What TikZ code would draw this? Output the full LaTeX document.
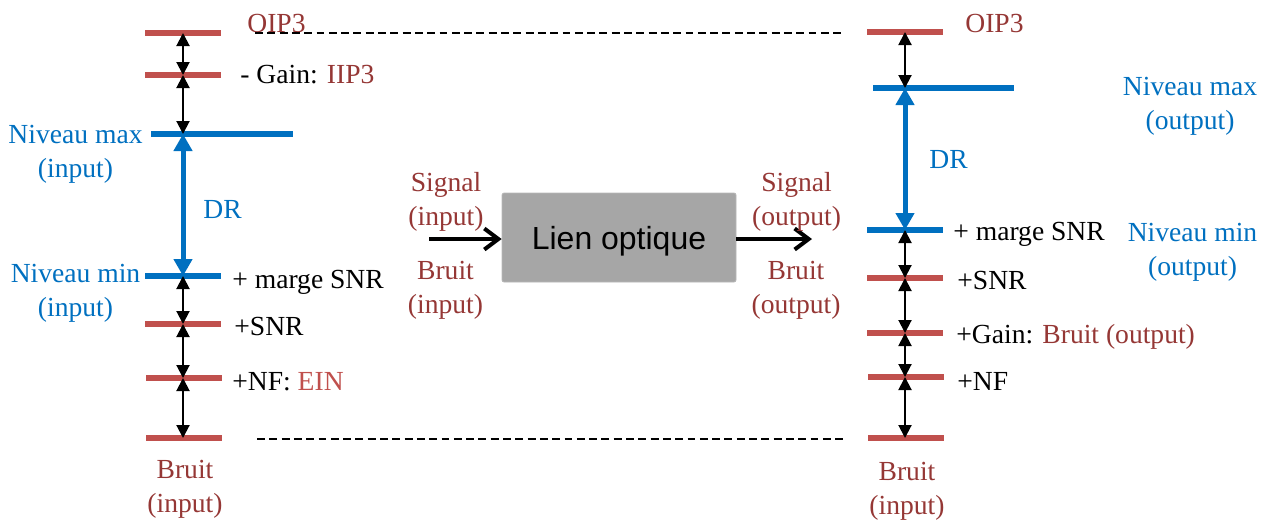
\documentclass[tikz,border=0pt]{standalone}
\usepackage{fontspec}
\setmainfont{Liberation Serif}
\newfontfamily\boxfont{Liberation Sans}
\usetikzlibrary{arrows.meta}
\definecolor{barred}{HTML}{C0504D}
\definecolor{txtred}{HTML}{953735}
\definecolor{lvlblue}{HTML}{0070C0}
\definecolor{boxgray}{HTML}{A6A6A6}
\begin{document}
\begin{tikzpicture}[x=0.2mm,y=-0.2mm,
    txt/.style={font=\fontsize{15.7}{19.3}\selectfont, inner sep=0pt},
    redbar/.style={fill=barred, inner sep=0pt, minimum height=1.2mm, minimum width=15.2mm},
    bluebar/.style={fill=lvlblue, inner sep=0pt, minimum height=1.2mm, minimum width=15.2mm},
    dimarr/.style={line width=0.4mm, {Triangle[width=2.6mm,length=2.6mm]}-{Triangle[width=2.6mm,length=2.6mm]}},
    drarr/.style={lvlblue, line width=1mm, {Triangle[width=3.6mm,length=3.4mm]}-{Triangle[width=3.6mm,length=3.4mm]}},
    flowarr/.style={line width=0.8mm, -{Straight Barb[width=4.2mm,length=2.8mm]}},
    refline/.style={dash pattern=on 4.5pt off 2.5pt, line width=0.35mm}]
    \useasboundingbox (0,0) rectangle (1269,524);
    % input side
    \node[redbar] (lOIP) at (183,33) {};
    \node[redbar] (lIIP) at (183,75) {};
    \node[bluebar, minimum width=28.4mm] (lmax) at (222,134) {};
    \node[bluebar] (lmin) at (183,276) {};
    \node[redbar] (lSNR) at (183,324) {};
    \node[redbar] (lNF) at (184,378) {};
    \node[redbar] (lnoise) at (184,438) {};
    \draw[dimarr] (lOIP.center) -- (lIIP.center);
    \draw[dimarr] (lIIP.center) -- (lIIP.center |- lmax.center);
    \draw[drarr] (lmin.center |- lmax.center) -- (lmin.center);
    \draw[dimarr] (lmin.center) -- (lSNR.center);
    \draw[dimarr] (lSNR.center) -- (lSNR.center |- lNF.center);
    \draw[dimarr] (lSNR.center |- lNF.center) -- (lSNR.center |- lnoise.center);
    \node[txt, txtred, anchor=base west] (lOIPtxt) at (247,32) {OIP3};
    \node[txt, anchor=base west] (lIIPtxt) at (240,83) {- Gain: \textcolor{txtred}{IIP3}};
    \node[txt, lvlblue, align=center] (lmaxtxt) at (75.5,154) {Niveau max\\(input)};
    \node[txt, lvlblue, anchor=base west] (lDRtxt) at (203,218) {DR};
    \node[txt, lvlblue, align=center] (lmintxt) at (75.5,293) {Niveau min\\(input)};
    \node[txt, anchor=base west] (lmargin) at (232,288) {+ marge SNR};
    \node[txt, anchor=base west] (lSNRtxt) at (234,335) {+SNR};
    \node[txt, anchor=base west] (lNFtxt) at (232,390) {+NF: \textcolor{barred}{EIN}};
    \node[txt, txtred, align=center] (lnoisetxt) at (185,489) {Bruit\\(input)};
    \draw[refline] (255,33) -- (843,33);
    \draw[refline] (257,439) -- (843,439);
    % optical link
    \node[fill=boxgray, draw=boxgray!80, rounded corners=0.4mm, minimum width=46.8mm,
        minimum height=17.8mm, text depth=0pt, font=\boxfont\fontsize{18.2}{22}\selectfont] (link) at (619,237.5) {Lien optique};
    \coordinate (linkin) at (429,239);
    \coordinate (linkout) at (812,239);
    \draw[flowarr] (linkin) -- (linkin -| link.west);
    \draw[flowarr] (linkin -| link.east) -- (linkout);
    \node[txt, txtred, align=center] (sigin) at (446,202) {Signal\\(input)};
    \node[txt, txtred, align=center] (noisein) at (445.5,290) {Bruit\\(input)};
    \node[txt, txtred, align=center] (sigout) at (796.5,202) {Signal\\(output)};
    \node[txt, txtred, align=center] (noiseout) at (796,290) {Bruit\\(output)};
    % output side
    \node[redbar] (rOIP) at (905,32) {};
    \node[bluebar, minimum width=28.2mm] (rmax) at (943.5,88) {};
    \node[bluebar] (rmin) at (905,230) {};
    \node[redbar] (rSNR) at (905,278) {};
    \node[redbar] (rgain) at (905,333) {};
    \node[redbar] (rNF) at (906,377) {};
    \node[redbar] (rnoise) at (906,438) {};
    \draw[dimarr] (rOIP.center) -- (rOIP.center |- rmax.center);
    \draw[drarr] (rmin.center |- rmax.center) -- (rmin.center);
    \draw[dimarr] (rmin.center) -- (rSNR.center);
    \draw[dimarr] (rSNR.center) -- (rgain.center);
    \draw[dimarr] (rgain.center) -- (rgain.center |- rNF.center);
    \draw[dimarr] (rgain.center |- rNF.center) -- (rgain.center |- rnoise.center);
    \node[txt, txtred, anchor=base west] (rOIPtxt) at (965,32) {OIP3};
    \node[txt, lvlblue, align=center] (rmaxtxt) at (1190,106) {Niveau max\\(output)};
    \node[txt, lvlblue, anchor=base west] (rDRtxt) at (929,168) {DR};
    \node[txt, anchor=base west] (rmargin) at (953,240) {+ marge SNR};
    \node[txt, lvlblue, align=center] (rmintxt) at (1192.5,252) {Niveau min\\(output)};
    \node[txt, anchor=base west] (rSNRtxt) at (957,289) {+SNR};
    \node[txt, anchor=base west] (rgaintxt) at (956,343) {+Gain: \textcolor{txtred}{Bruit (output)}};
    \node[txt, anchor=base west] (rNFtxt) at (957,390) {+NF};
    \node[txt, txtred, align=center] (rnoisetxt) at (907,491.5) {Bruit\\(input)};
\end{tikzpicture}
\end{document}
